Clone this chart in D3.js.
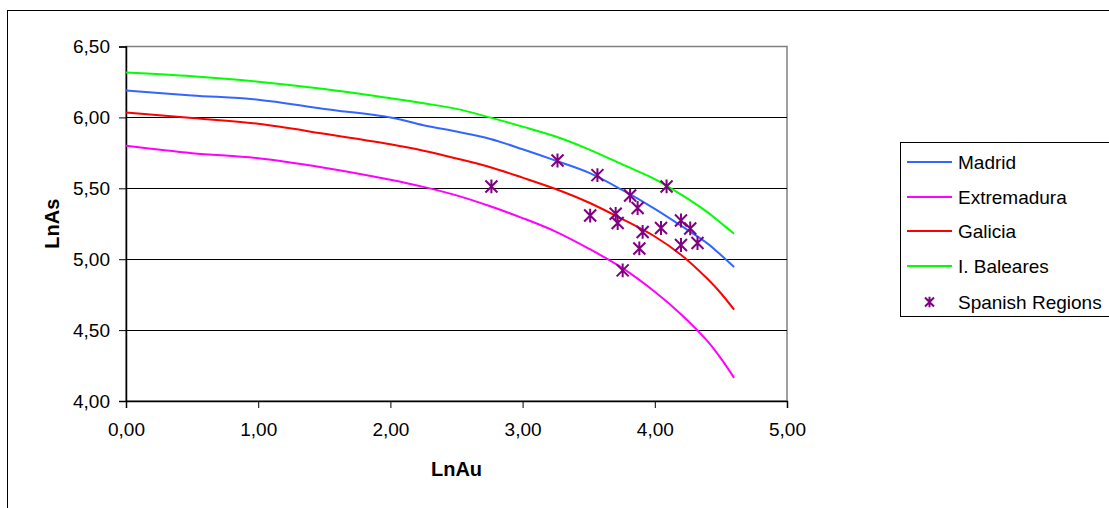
<!DOCTYPE html>
<html>
<head>
<meta charset="utf-8">
<script src="https://cdn.jsdelivr.net/npm/d3@7"></script>
<style>
  html, body { margin: 0; padding: 0; background: #fff; }
  svg { display: block; font-family: "Liberation Sans", Arial, sans-serif; }
</style>
</head>
<body>
<svg id="chart" width="1109" height="508"></svg>
<script>
// ---- data ----
const lnAu = [0, 0.5, 1.0, 1.5, 2.0, 2.25, 2.5, 2.75, 3.0, 3.25, 3.5, 3.75, 4.0, 4.2, 4.4, 4.5, 4.6];
const madrid      = [6.19, 6.155, 6.125, 6.06, 6.00, 5.945, 5.90, 5.85, 5.775, 5.695, 5.61, 5.49, 5.355, 5.235, 5.11, 5.03, 4.945];
const extremadura = [5.80, 5.748, 5.712, 5.645, 5.56, 5.51, 5.45, 5.375, 5.29, 5.195, 5.075, 4.94, 4.77, 4.61, 4.42, 4.30, 4.163];
const galicia     = [6.034, 5.995, 5.955, 5.885, 5.81, 5.765, 5.71, 5.65, 5.575, 5.495, 5.40, 5.285, 5.16, 5.03, 4.86, 4.76, 4.644];
const baleares    = [6.316, 6.29, 6.252, 6.20, 6.135, 6.10, 6.06, 6.00, 5.935, 5.865, 5.775, 5.67, 5.565, 5.455, 5.33, 5.255, 5.18];
const regionsX = [2.764, 3.264, 3.566, 4.089, 3.813, 3.870, 3.511, 3.704, 3.719, 3.908, 4.047, 4.198, 4.268, 4.198, 4.323, 3.883, 3.757];
const regionsY = [5.513, 5.696, 5.593, 5.513, 5.449, 5.361, 5.308, 5.320, 5.255, 5.192, 5.220, 5.273, 5.217, 5.100, 5.114, 5.076, 4.921];
const seriesNames = ["Madrid", "Extremadura", "Galicia", "I. Baleares"];
const seriesColors = ["#3366FF", "#FF00FF", "#FF0000", "#00FF00"];
const scatterName = "Spanish Regions";
const scatterColor = "#800080";
const xTicks = [0, 1, 2, 3, 4, 5];
const yTicks = [4.0, 4.5, 5.0, 5.5, 6.0, 6.5];
const xTitle = "LnAu";
const yTitle = "LnAs";

// ---- layout ----
const svg = d3.select("#chart");
const pL = 126, pR = 787, pT = 46.5, pB = 401;
const x = d3.scaleLinear().domain([0, 5]).range([pL, pR]);
const y = d3.scaleLinear().domain([4, 6.5]).range([pB, pT]);
const fmt = d => d.toFixed(2).replace(".", ",");

// outer chart border
svg.append("rect").attr("x", 7.5).attr("y", 10.5).attr("width", 1120).attr("height", 520)
  .attr("fill", "#fff").attr("stroke", "#000").attr("stroke-width", 1);

// plot area
svg.append("rect").attr("x", pL).attr("y", pT).attr("width", pR - pL).attr("height", pB - pT)
  .attr("fill", "#fff").attr("stroke", "#808080").attr("stroke-width", 1.5);

// gridlines
svg.append("g").selectAll("line").data(yTicks.filter(t => t > 4 && t < 6.5)).join("line")
  .attr("x1", pL).attr("x2", pR)
  .attr("y1", d => Math.round(y(d)) + 0.5).attr("y2", d => Math.round(y(d)) + 0.5)
  .attr("stroke", "#000").attr("stroke-width", 1);

// axes
const xAxis = svg.append("g").attr("transform", `translate(0,${pB})`)
  .call(d3.axisBottom(x).tickValues(xTicks).tickFormat(fmt).tickSize(7).tickPadding(14));
const yAxis = svg.append("g").attr("transform", `translate(${pL},0)`)
  .call(d3.axisLeft(y).tickValues(yTicks).tickFormat(fmt).tickSize(7).tickPadding(9));
[xAxis, yAxis].forEach(g => {
  g.select(".domain").attr("stroke", "#000").attr("stroke-width", 1.5);
  g.selectAll(".tick line").attr("stroke", "#000").attr("stroke-width", 1);
  g.selectAll(".tick text").attr("fill", "#000").style("font-size", "19px")
    .style("font-family", '"Liberation Sans", Arial, sans-serif');
});
xAxis.selectAll(".tick text").attr("dy", "0.75em");

// axis titles
svg.append("text").attr("x", (pL + pR) / 2).attr("y", 476).attr("text-anchor", "middle")
  .style("font-size", "20px").style("font-weight", "bold").text(xTitle);
svg.append("text").attr("transform", `translate(59,${(pT + pB) / 2}) rotate(-90)`)
  .attr("text-anchor", "middle").style("font-size", "20px").style("font-weight", "bold").text(yTitle);

// lines
const series = [madrid, extremadura, galicia, baleares];
const line = d3.line().x((d, i) => x(lnAu[i])).y(d => y(d)).curve(d3.curveCatmullRom.alpha(0.5));
svg.append("g").selectAll("path").data(series).join("path")
  .attr("d", d => line(d)).attr("fill", "none")
  .attr("stroke", (d, i) => seriesColors[i]).attr("stroke-width", 2);

// asterisk marker
function star(g, cx, cy, r) {
  const p = `M${cx - r},${cy - r}L${cx + r},${cy + r}M${cx - r},${cy + r}L${cx + r},${cy - r}M${cx},${cy - r * 1.15}L${cx},${cy + r * 1.15}`;
  g.append("path").attr("d", p).attr("stroke", scatterColor).attr("stroke-width", 2).attr("fill", "none");
}
const sg = svg.append("g");
regionsX.forEach((vx, i) => star(sg, x(vx), y(regionsY[i]), 6));

// legend
const lg = svg.append("g");
lg.append("rect").attr("x", 900.5).attr("y", 142.5).attr("width", 260).attr("height", 174)
  .attr("fill", "#fff").attr("stroke", "#000").attr("stroke-width", 1);
const legY = [162, 197, 231, 266, 302];
seriesNames.forEach((n, i) => {
  lg.append("line").attr("x1", 907).attr("x2", 952).attr("y1", legY[i]).attr("y2", legY[i])
    .attr("stroke", seriesColors[i]).attr("stroke-width", 2);
  lg.append("text").attr("x", 958).attr("y", legY[i]).attr("dy", "0.35em")
    .style("font-size", "19px").text(n);
});
star(lg, 929.5, legY[4], 4.5);
lg.append("text").attr("x", 958).attr("y", legY[4]).attr("dy", "0.35em")
  .style("font-size", "19px").text(scatterName);
</script>
</body>
</html>
